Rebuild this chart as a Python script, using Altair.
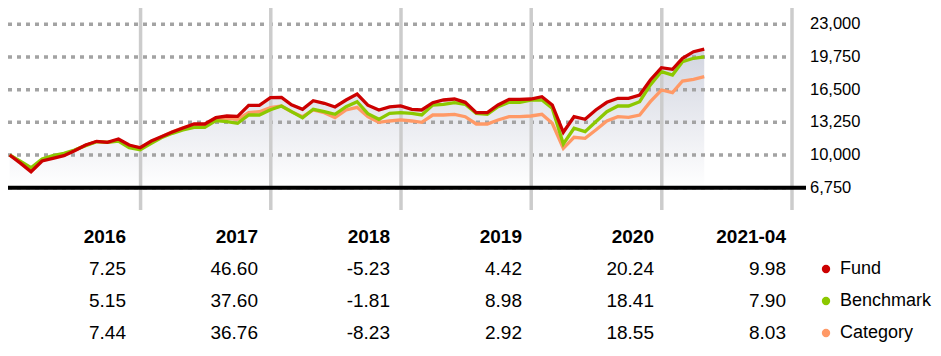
import altair as alt
import pandas as pd

# ---------------- data ----------------
month_ends = (pd.date_range("2016-01-01", periods=65, freq="MS") - pd.Timedelta(days=1)).strftime("%Y-%m-%d").tolist()

fund = [10000, 9170, 8340, 9405, 9674, 9932, 10430, 10996, 11364, 11265, 11593, 10996, 10725,
        11394, 11822, 12290, 12687, 13085, 13085, 13712, 13880, 13850, 14944, 14944, 15700,
        15740, 15000, 14547, 15400, 15143, 14775, 15472, 16060, 14960, 14480, 14790, 14880,
        14547, 14480, 15204, 15472, 15571, 15243, 14210, 14210, 14975, 15540, 15540, 15570,
        15800, 14975, 12260, 13810, 13550, 14480, 15245, 15640, 15640, 15970, 17460, 18680,
        18525, 19620, 20275, 20540]

benchmark = [10000, 9370, 8740, 9605, 9932, 10170, 10500, 10930, 11325, 11265, 11394, 10728, 10530,
             11165, 11720, 12160, 12490, 12757, 12757, 13415, 13315, 13155, 13980, 13980, 14500,
             14875, 14310, 13710, 14545, 14310, 14050, 14805, 15300, 14120, 13550, 14150, 14210,
             14150, 13980, 14975, 15040, 15204, 15040, 14150, 14050, 14805, 15245, 15245, 15450,
             15470, 14645, 11095, 12660, 12320, 13315, 14310, 14875, 14875, 15305, 16965, 18300,
             17960, 19280, 19620, 19760]

category = [10000, 9300, 8600, 9500, 9800, 10050, 10480, 10980, 11340, 11270, 11480, 10880, 10744,
            11300, 11800, 12300, 12700, 13000, 13000, 13650, 13650, 13550, 14210, 14310, 14720,
            14875, 14310, 13810, 14480, 14210, 13710, 14480, 14745, 13810, 13255, 13385, 13485,
            13385, 13255, 13980, 13980, 14050, 13810, 13085, 13085, 13485, 13810, 13810, 13880,
            14050, 13155, 10670, 11760, 11660, 12490, 13385, 13810, 13750, 13980, 15305, 16465,
            16200, 17360, 17530, 17790]

series_names = ["Fund", "Benchmark", "Category"]
series_colors = ["#cc0000", "#8cc800", "#ff9966"]

y_ticks = [6750, 10000, 13250, 16500, 19750, 23000]
year_starts = ["2017-01-01", "2018-01-01", "2019-01-01", "2020-01-01", "2021-01-01", "2022-01-01"]

columns = ["2016", "2017", "2018", "2019", "2020", "2021-04"]
fund_returns = [7.25, 46.60, -5.23, 4.42, 20.24, 9.98]
benchmark_returns = [5.15, 37.60, -1.81, 8.98, 18.41, 7.90]
category_returns = [7.44, 36.76, -8.23, 2.92, 18.55, 8.03]

# ---------------- tables ----------------
df = pd.DataFrame({"date": month_ends, "Fund": fund, "Benchmark": benchmark, "Category": category})
df_years = pd.DataFrame({"date": year_starts})
df_ticks = pd.DataFrame({"tick": y_ticks})
rows = ["header"] + series_names
df_head = pd.DataFrame({"col": columns, "row": "header", "label": columns})
df_vals = pd.DataFrame({
    "col": columns * 3,
    "row": ["Fund"] * 6 + ["Benchmark"] * 6 + ["Category"] * 6,
    "val": fund_returns + benchmark_returns + category_returns,
})
df_vals["label"] = df_vals["val"].map(lambda v: f"{v:.2f}")
df_leg = pd.DataFrame({"row": series_names, "series": series_names})

FONT = "Liberation Sans"
TFS = 19

xscale = alt.Scale(domain=["2016-01-01", "2022-01-01"], range=[2, 784])
yscale = alt.Scale(domain=[6750, 23000], range=[179.7, 16.3], zero=False, nice=False)
colscale = alt.Scale(type="point", domain=columns, range=[118, 778], padding=0)
rowscale = alt.Scale(type="point", domain=rows, range=[229, 325], padding=0)
colorscale = alt.Scale(domain=series_names, range=series_colors)

gradient = {"gradient": "linear", "x1": 1, "x2": 1, "y1": 1, "y2": 0,
            "stops": [{"offset": 0, "color": "#ffffff"}, {"offset": 1, "color": "#d2d5e0"}]}

base = alt.Chart(df)

grid = alt.Chart(df_ticks).mark_rule(color="#a3a3a3", strokeWidth=3.5, strokeDash=[4, 5]).encode(
    y=alt.Y("tick:Q", scale=yscale, axis=None),
    x=alt.value(0), x2=alt.value(780),
)

ylabels = alt.Chart(df_ticks).mark_text(align="left", baseline="middle", font=FONT,
                                        fontSize=16.5, color="#000000").encode(
    y=alt.Y("tick:Q", scale=yscale, axis=None),
    x=alt.value(802),
    text=alt.Text("tick:Q", format=","),
)

area = base.mark_area(color=gradient).encode(
    x=alt.X("date:T", scale=xscale, axis=None),
    y=alt.Y("Fund:Q", scale=yscale, axis=None),
    y2=alt.datum(6750),
)

vrules = alt.Chart(df_years).mark_rule(color="#cccccc", strokeWidth=3.5).encode(
    x=alt.X("date:T", scale=xscale, axis=None),
    y=alt.value(0), y2=alt.value(202),
)

def line(name, color):
    return base.mark_line(color=color, strokeWidth=3.3, strokeJoin="miter").encode(
        x=alt.X("date:T", scale=xscale, axis=None),
        y=alt.Y(f"{name}:Q", scale=yscale, axis=None),
    )

baseline = alt.Chart(df_ticks).transform_filter(alt.datum.tick == y_ticks[0]).mark_rule(
    color="#000000", strokeWidth=4).encode(
    y=alt.Y("tick:Q", scale=yscale, axis=None), x=alt.value(0), x2=alt.value(798),
)

plot = alt.layer(area, grid, vrules, line("Category", series_colors[2]),
                 line("Benchmark", series_colors[1]), line("Fund", series_colors[0]),
                 baseline, ylabels)

heads = alt.Chart(df_head).mark_text(align="right", baseline="middle", font=FONT,
                                     fontSize=TFS, fontWeight="bold", color="#000000").encode(
    x=alt.X("col:N", scale=colscale, axis=None),
    y=alt.Y("row:N", scale=rowscale, axis=None),
    text="label:N",
)
vals = alt.Chart(df_vals).mark_text(align="right", baseline="middle", font=FONT,
                                    fontSize=TFS, color="#000000").encode(
    x=alt.X("col:N", scale=colscale, axis=None),
    y=alt.Y("row:N", scale=rowscale, axis=None),
    text="label:N",
)
dots = alt.Chart(df_leg).mark_circle(size=70, opacity=1).encode(
    x=alt.value(818),
    y=alt.Y("row:N", scale=rowscale, axis=None),
    color=alt.Color("series:N", scale=colorscale, legend=None),
)
names = alt.Chart(df_leg).mark_text(align="left", baseline="middle", font=FONT,
                                    fontSize=18, color="#000000").encode(
    x=alt.value(832),
    y=alt.Y("row:N", scale=rowscale, axis=None),
    text="series:N",
)
table = alt.layer(heads, vals, dots, names)

chart = alt.layer(plot, table).resolve_scale(x="independent", y="independent").properties(
    width=784, height=340,
    autosize=alt.AutoSizeParams(type="none"),
    padding={"left": 0, "top": 0, "right": 141, "bottom": 0},
).configure_view(stroke=None)

chart.save("out.html", embed_options={"renderer": "svg", "actions": False})
